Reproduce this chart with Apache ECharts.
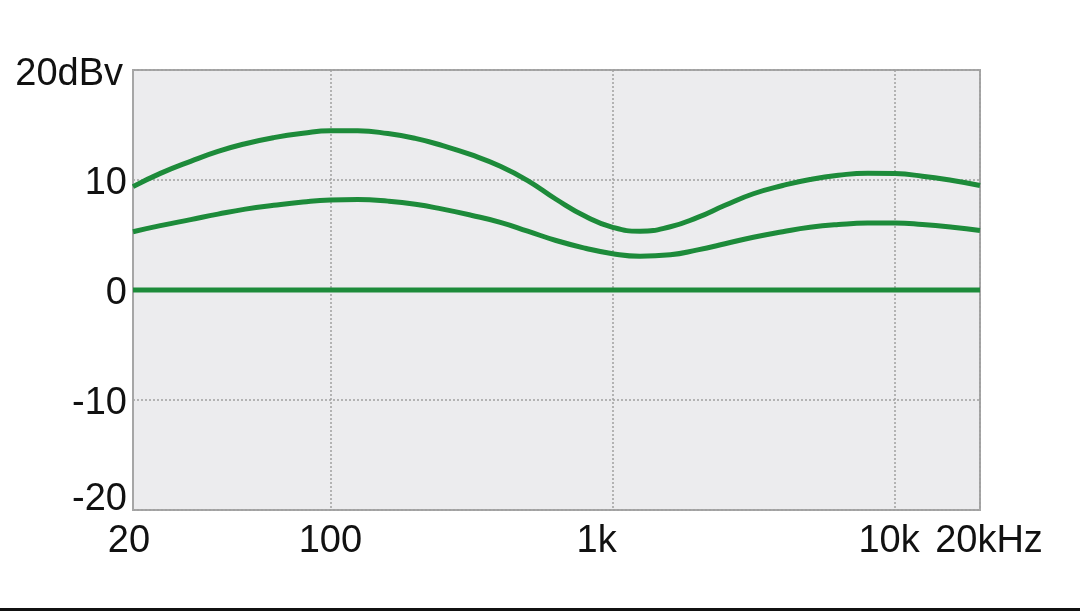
<!DOCTYPE html>
<html>
<head>
<meta charset="utf-8">
<script src="https://cdn.jsdelivr.net/npm/echarts@6/dist/echarts.min.js"></script>
<style>
html,body{margin:0;padding:0;background:#fff;}
#c{width:1080px;height:611px;}
</style>
</head>
<body>
<div id="c"></div>
<script>
const freqs = [20, 25, 32, 40, 50, 63, 80, 100, 125, 160, 200, 250, 315, 400, 500, 630, 800, 1000, 1250, 1600, 2000, 2500, 3150, 4000, 5000, 6300, 8000, 10000, 12500, 16000, 20000];
const upperDb = [9.4, 10.6, 11.7, 12.6, 13.3, 13.85, 14.25, 14.48, 14.47, 14.22, 13.78, 13.12, 12.3, 11.25, 9.95, 8.25, 6.7, 5.7, 5.35, 5.75, 6.6, 7.7, 8.75, 9.5, 10.05, 10.43, 10.62, 10.58, 10.35, 9.95, 9.5];
const lowerDb = [5.3, 5.85, 6.4, 6.9, 7.35, 7.7, 8.0, 8.18, 8.22, 8.08, 7.8, 7.35, 6.8, 6.15, 5.35, 4.5, 3.8, 3.3, 3.07, 3.2, 3.65, 4.2, 4.8, 5.3, 5.7, 5.95, 6.08, 6.08, 5.95, 5.7, 5.4];
const flatFreqs = [20, 20000];
const flatDb = [0, 0];
const xTickLabels = {20: '20', 100: '100', 1000: '1k', 10000: '10k', 20000: '20kHz'};
const yTickLabels = {20: '20dBv', 10: '10', 0: '0', '-10': '-10', '-20': '-20'};

const pair = (xs, ys) => xs.map((x, i) => [x, ys[i]]);
const green = '#1d8b3a';
const font = '"Liberation Sans", Arial, Helvetica, sans-serif';
const fs = 38;
const txt = extra => Object.assign({fontSize: fs, fontFamily: font, color: '#111'}, extra);

const chart = echarts.init(document.getElementById('c'), null, {renderer: 'canvas'});
chart.setOption({
  animation: false,
  backgroundColor: '#ffffff',
  grid: {left: 133, right: 100, top: 70, bottom: 101, show: true, backgroundColor: '#ececee', borderColor: '#a6a6a6', borderWidth: 2},
  xAxis: {
    type: 'log', logBase: 10, min: 20, max: 20000,
    axisLine: {show: true, lineStyle: {color: '#a6a6a6', width: 2}},
    axisTick: {show: false},
    splitLine: {show: true, lineStyle: {color: '#a0a0a0', width: 1.5, type: [2, 2]}},
    axisLabel: {
      margin: 13, color: '#111', fontSize: fs, fontFamily: font,
      showMinLabel: true, showMaxLabel: true,
      formatter: v => {
        const k = Math.round(v);
        const t = xTickLabels[k];
        if (!t) return '';
        if (k === 20) return '{a|' + t + '}';
        if (k === 1000) return '{b|' + t + '}';
        if (k === 10000) return '{c|' + t + '}';
        if (k === 20000) return '{d|' + t + '}';
        return '{e|' + t + '}';
      },
      rich: {
        a: txt({padding: [0, 8, 0, 0]}),
        b: txt({padding: [0, 32, 0, 0]}),
        c: txt({padding: [0, 12, 0, 0]}),
        d: txt({padding: [0, 0, 0, 18]}),
        e: txt({})
      }
    }
  },
  yAxis: {
    type: 'value', min: -20, max: 20, interval: 10,
    axisLine: {show: true, lineStyle: {color: '#a6a6a6', width: 2}},
    axisTick: {show: false},
    splitLine: {show: true, lineStyle: {color: '#a0a0a0', width: 1.5, type: [2, 2]}},
    axisLabel: {
      margin: 6, color: '#111', fontSize: fs, fontFamily: font,
      formatter: v => {
        const t = yTickLabels[v];
        if (v === 20) return '{t|' + t + '}';
        if (v === -20) return '{m|' + t + '}';
        return '{n|' + t + '}';
      },
      rich: {
        t: txt({padding: [10, 4, 0, 0]}),
        m: txt({padding: [0, 0, 20, 0]}),
        n: txt({padding: [7, 0, 0, 0]})
      }
    }
  },
  series: [
    {type: 'line', data: pair(flatFreqs, flatDb), showSymbol: false, lineStyle: {color: green, width: 5}, z: 3},
    {type: 'line', data: pair(freqs, lowerDb), smooth: 0.5, showSymbol: false, lineStyle: {color: green, width: 5}, z: 3},
    {type: 'line', data: pair(freqs, upperDb), smooth: 0.5, showSymbol: false, lineStyle: {color: green, width: 5}, z: 3}
  ],
  graphic: [
    {type: 'rect', left: 0, top: 608, shape: {width: 1080, height: 3}, style: {fill: '#111'}, z: 10}
  ]
});
</script>
</body>
</html>
